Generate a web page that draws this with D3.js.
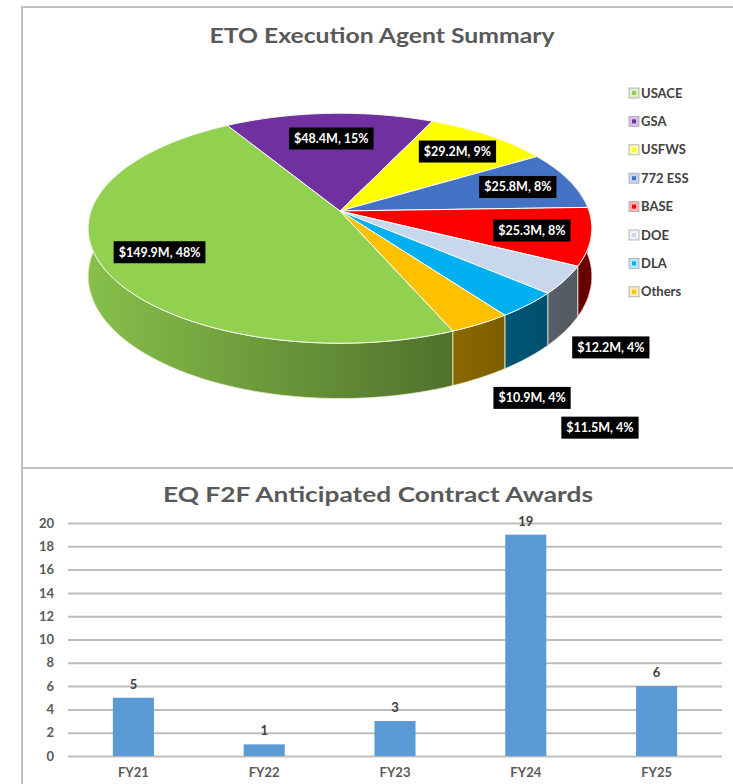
<!DOCTYPE html>
<html>
<head>
<meta charset="utf-8">
<script src="https://cdn.jsdelivr.net/npm/d3@7"></script>
<style>
  body { margin: 0; background: #fff; }
  text { font-family: Lato, "Open Sans", sans-serif; }
</style>
</head>
<body>
<div id="chart"></div>
<script>
// Pie data (ETO Execution Agent Summary)
const agents = ['USACE', 'GSA', 'USFWS', '772 ESS', 'BASE', 'DOE', 'DLA', 'Others'];
const amounts = [149.9, 48.4, 29.2, 25.8, 25.3, 12.2, 11.5, 10.9];
const percentLabels = ['48%', '15%', '9%', '8%', '8%', '4%', '4%', '4%'];
const agentColors = ['#92D050', '#7030A0', '#FFFF00', '#4472C4', '#FF0000', '#C8D7EB', '#00B0F0', '#FFC000'];

// Bar data (EQ F2F Anticipated Contract Awards)
const fiscalYears = ['FY21', 'FY22', 'FY23', 'FY24', 'FY25'];
const awards = [5, 1, 3, 19, 6];
const awardTicks = [0, 2, 4, 6, 8, 10, 12, 14, 16, 18, 20];

const W = 733, H = 784;
const svg = d3.select('#chart').append('svg')
    .attr('width', W)
    .attr('height', H);

svg.append('rect').attr('width', W).attr('height', H).attr('fill', '#fff');

// Cadres
const frame = svg.append('g').attr('stroke', '#bfbfbf').attr('stroke-width', 2);
frame.append('line').attr('x1', 22).attr('x2', 22).attr('y1', 6).attr('y2', H);
frame.append('line').attr('x1', 21).attr('x2', W).attr('y1', 7).attr('y2', 7);
frame.append('line').attr('x1', 21).attr('x2', W).attr('y1', 468).attr('y2', 468);

// ---------- Pie 3D ----------
svg.append('text')
    .attr('x', 382).attr('y', 43)
    .attr('text-anchor', 'middle')
    .attr('font-size', '21px')
    .attr('font-weight', 'bold')
    .attr('fill', '#595959')
    .attr('textLength', 345)
    .attr('lengthAdjust', 'spacingAndGlyphs')
    .text('ETO Execution Agent Summary');

const pieData = agents.map((name, i) => ({
    name, amount: amounts[i], pct: percentLabels[i], color: agentColors[i]
}));

const deg = Math.PI / 180;
const startAngle = -203 * deg;
const pie = d3.pie()
    .sort(null)
    .value(d => d.amount)
    .startAngle(startAngle)
    .endAngle(startAngle + 2 * Math.PI);
const arcs = pie(pieData);

// Projecció amb perspectiva
const cx = 340, cy = 211, R = 249, tilt = 0.4514, persp = 0.15, depth = 47;
function proj(a, r, z) {
    const u = r * Math.sin(a);
    const v = -r * Math.cos(a);
    const w = 1 / (1 - persp * v);
    return [cx + R * u * w, cy + R * tilt * v * w + z * depth * w];
}

function rimPoints(a0, a1, z) {
    const n = Math.max(2, Math.ceil((a1 - a0) / (0.5 * deg)));
    return d3.range(n + 1).map(i => proj(a0 + (a1 - a0) * i / n, 1, z));
}

const line = d3.line();

const defs = svg.append('defs');
const grad = defs.append('linearGradient')
    .attr('id', 'sideShade')
    .attr('gradientUnits', 'userSpaceOnUse')
    .attr('x1', 88).attr('x2', 592).attr('y1', 0).attr('y2', 0);
grad.append('stop').attr('offset', 0).attr('stop-color', '#000').attr('stop-opacity', 0.08);
grad.append('stop').attr('offset', 1).attr('stop-color', '#000').attr('stop-opacity', 0.6);

const pieG = svg.append('g');

// Costats
arcs.forEach(d => {
    const top = rimPoints(d.startAngle, d.endAngle, 0);
    const bottom = rimPoints(d.startAngle, d.endAngle, 1).reverse();
    const path = line(top.concat(bottom)) + 'Z';
    pieG.append('path')
        .attr('d', path)
        .attr('fill', d.data.color);
    pieG.append('path')
        .attr('d', path)
        .attr('fill', 'url(#sideShade)')
        .attr('stroke', '#f3f0d8')
        .attr('stroke-width', 0.8);
});

// Cares superiors
arcs.forEach(d => {
    const pts = [proj(0, 0, 0)].concat(rimPoints(d.startAngle, d.endAngle, 0));
    pieG.append('path')
        .attr('d', line(pts) + 'Z')
        .attr('fill', d.data.color)
        .attr('stroke', '#fff')
        .attr('stroke-width', 1)
        .attr('stroke-linejoin', 'round');
});

// Etiquetes
const outsideOffsets = { DOE: [46, 16], DLA: [72, 70], Others: [52, 20] };
arcs.forEach(d => {
    const mid = (d.startAngle + d.endAngle) / 2;
    let p;
    if (outsideOffsets[d.data.name]) {
        const base = proj(mid, 1, 1);
        const off = outsideOffsets[d.data.name];
        p = [base[0] + off[0], base[1] + off[1]];
    } else {
        p = proj(mid, 0.77, 0);
    }
    if (d.data.name === 'GSA') p[1] += 5;
    const g = pieG.append('g').attr('transform', `translate(${p[0]},${p[1]})`);
    const box = g.append('rect').attr('fill', '#000');
    const t = g.append('text')
        .attr('text-anchor', 'middle')
        .attr('dy', '0.35em')
        .attr('font-size', '12.5px')
        .attr('font-weight', 'bold')
        .attr('fill', '#fff')
        .text(`$${d.data.amount.toFixed(1)}M, ${d.data.pct}`);
    const bw = t.node().getComputedTextLength() + 10;
    box.attr('x', -bw / 2).attr('y', -11).attr('width', bw).attr('height', 22);
});

// Llegenda
const legend = svg.append('g')
    .selectAll('g')
    .data(pieData)
    .join('g')
    .attr('transform', (d, i) => `translate(629, ${93 + i * 28.4})`);

legend.append('rect')
    .attr('x', 0).attr('y', -5)
    .attr('width', 10).attr('height', 10)
    .attr('fill', d => d3.interpolateRgb('#fff', d.color)(0.3))
    .attr('stroke', '#a6a6a6')
    .attr('stroke-width', 0.8);

legend.append('rect')
    .attr('x', 3).attr('y', -2)
    .attr('width', 4).attr('height', 4)
    .attr('fill', d => d.color);

legend.append('text')
    .attr('x', 12)
    .attr('dy', '0.36em')
    .attr('font-size', '13px')
    .attr('font-weight', 'bold')
    .attr('fill', '#404040')
    .text(d => d.name);

// ---------- Barres ----------
svg.append('text')
    .attr('x', 378).attr('y', 502)
    .attr('text-anchor', 'middle')
    .attr('font-size', '21px')
    .attr('font-weight', 'bold')
    .attr('fill', '#595959')
    .attr('textLength', 430)
    .attr('lengthAdjust', 'spacingAndGlyphs')
    .text('EQ F2F Anticipated Contract Awards');

const plotLeft = 68, plotRight = 722;
const x = d3.scaleBand()
    .domain(fiscalYears)
    .range([plotLeft, plotRight])
    .paddingInner(0.686)
    .paddingOuter(0.343);

const y = d3.scaleLinear()
    .domain([0, 20])
    .range([756, 523]);

const yAxis = svg.append('g')
    .attr('transform', `translate(${plotLeft},0)`)
    .call(d3.axisLeft(y)
        .tickValues(awardTicks)
        .tickSize(-(plotRight - plotLeft))
        .tickPadding(14));
yAxis.select('.domain').remove();
yAxis.selectAll('.tick line')
    .attr('stroke', '#bdbdbd')
    .attr('stroke-width', 2);
yAxis.selectAll('.tick text')
    .attr('font-family', 'Lato, "Open Sans", sans-serif')
    .attr('font-size', '13px')
    .attr('font-weight', 'bold')
    .attr('fill', '#595959');

const barData = fiscalYears.map((fy, i) => ({ fy, value: awards[i] }));

svg.append('g')
    .selectAll('rect')
    .data(barData)
    .join('rect')
    .attr('x', d => x(d.fy))
    .attr('y', d => y(d.value))
    .attr('width', x.bandwidth())
    .attr('height', d => y(0) - y(d.value))
    .attr('fill', '#5B9BD5');

svg.append('g')
    .selectAll('text')
    .data(barData)
    .join('text')
    .attr('x', d => x(d.fy) + x.bandwidth() / 2)
    .attr('y', d => y(d.value) - 9)
    .attr('text-anchor', 'middle')
    .attr('font-size', '13px')
    .attr('font-weight', 'bold')
    .attr('fill', '#404040')
    .text(d => d.value);

const xAxis = svg.append('g')
    .attr('transform', `translate(0,${y(0)})`)
    .call(d3.axisBottom(x).tickSize(0).tickPadding(12));
xAxis.select('.domain').remove();
xAxis.selectAll('.tick text')
    .attr('font-family', 'Lato, "Open Sans", sans-serif')
    .attr('font-size', '13px')
    .attr('font-weight', 'bold')
    .attr('fill', '#595959');
</script>
</body>
</html>
